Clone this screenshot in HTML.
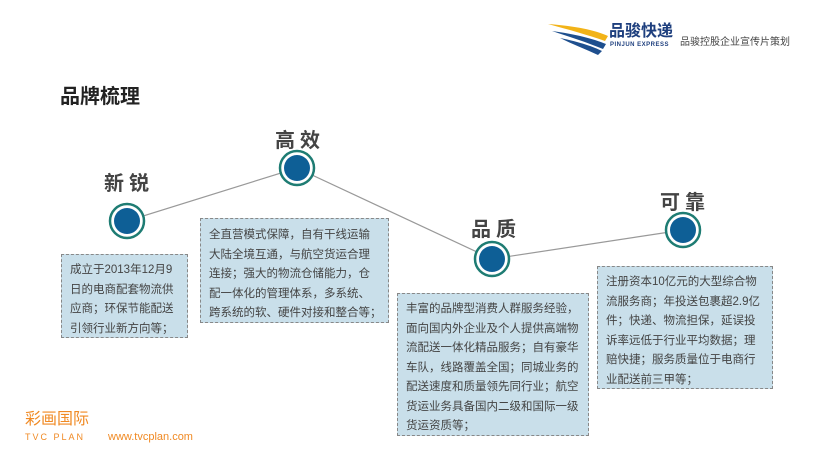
<!DOCTYPE html>
<html><head><meta charset="utf-8"><style>
body{margin:0;width:821px;height:462px;background:#fff;position:relative;overflow:hidden;font-family:"Liberation Sans","Noto Sans CJK SC",sans-serif;}
.a{position:absolute}
.lbl{position:absolute;font-size:20px;font-weight:bold;color:#444;letter-spacing:5px;white-space:nowrap}
.box{position:absolute;background:#c9dfea;border:1.5px dashed #888;box-sizing:border-box;font-size:11.5px;line-height:19.5px;color:#444;padding:8px 8px 0 8px;white-space:nowrap}
</style></head><body>
<div class="a" style="left:60px;top:80px;font-size:20px;font-weight:bold;color:#222">品牌梳理</div>
<svg class="a" style="left:0;top:0" width="821" height="462">
<polyline points="127,221 297,168 492,259 683,230" fill="none" stroke="#999" stroke-width="1.2"/>
<g fill="#fff" stroke="#1e7c73" stroke-width="2.5">
<circle cx="127" cy="221" r="17"/><circle cx="297" cy="168" r="17"/><circle cx="492" cy="259" r="17"/><circle cx="683" cy="230" r="17"/></g>
<g fill="#0e5f96">
<circle cx="127" cy="221" r="13"/><circle cx="297" cy="168" r="13"/><circle cx="492" cy="259" r="13"/><circle cx="683" cy="230" r="13"/></g>
<path d="M548,24 C575,26 595,30 608,36 L605,41 C588,35 570,30 548,24Z" fill="#f2b318"/>
<path d="M552,31 C575,34 594,39 606,44 L603,49 C586,42 570,37 552,31Z" fill="#1e4f8e"/>
<path d="M560,38 C580,42 594,47 602,51 L598,55 C585,49 572,44 560,38Z" fill="#1e4f8e"/>
</svg>
<div class="a" style="left:609px;top:23px;font-size:16px;font-weight:bold;color:#1e3f7e;line-height:18px">品骏快递</div>
<div class="a" style="left:610px;top:42px;font-size:6px;font-weight:bold;color:#1e3f7e;letter-spacing:0.5px;line-height:7px">PINJUN EXPRESS</div>
<div class="a" style="left:680px;top:33px;font-size:10px;color:#444">品骏控股企业宣传片策划</div>
<div class="lbl" style="left:104px;top:167px">新锐</div>
<div class="lbl" style="left:275px;top:124px">高效</div>
<div class="lbl" style="left:471px;top:213px">品质</div>
<div class="lbl" style="left:660px;top:186px">可靠</div>
<div class="box" style="left:61px;top:254px;width:127px;height:84px;padding-top:6px">成立于2013年12月9<br>日的电商配套物流供<br>应商；环保节能配送<br>引领行业新方向等；</div>
<div class="box" style="left:200px;top:218px;width:189px;height:105px;padding-top:7px">全直营模式保障，自有干线运输<br>大陆全境互通，与航空货运合理<br>连接；强大的物流仓储能力，仓<br>配一体化的管理体系，多系统、<br>跨系统的软、硬件对接和整合等；</div>
<div class="box" style="left:397px;top:293px;width:192px;height:143px;padding-top:6px">丰富的品牌型消费人群服务经验，<br>面向国内外企业及个人提供高端物<br>流配送一体化精品服务；自有豪华<br>车队，线路覆盖全国；同城业务的<br>配送速度和质量领先同行业；航空<br>货运业务具备国内二级和国际一级<br>货运资质等；</div>
<div class="box" style="left:597px;top:266px;width:176px;height:123px;padding-top:6px">注册资本10亿元的大型综合物<br>流服务商；年投送包裹超2.9亿<br>件；快递、物流担保，延误投<br>诉率远低于行业平均数据；理<br>赔快捷；服务质量位于电商行<br>业配送前三甲等；</div>
<div class="a" style="left:25px;top:411px;font-size:16px;color:#f08a24;line-height:18px">彩画国际</div>
<div class="a" style="left:25px;top:432px;font-size:9px;color:#f08a24;letter-spacing:2px;line-height:10px">TVC PLAN</div>
<div class="a" style="left:108px;top:431px;font-size:11px;color:#f08a24">www.tvcplan.com</div>
</body></html>
